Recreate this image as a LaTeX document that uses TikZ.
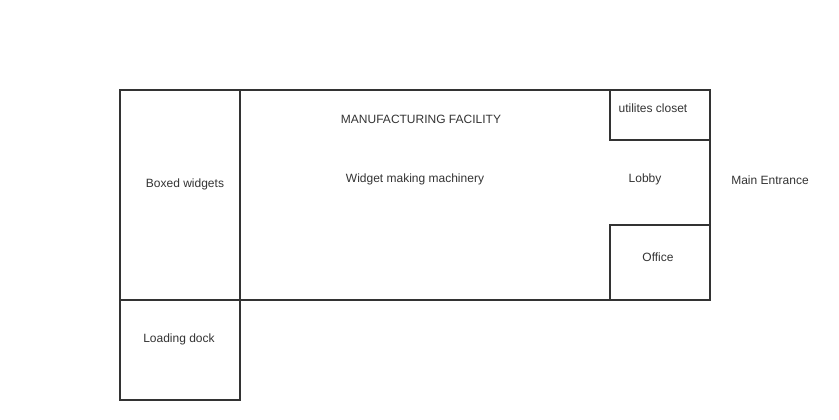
\documentclass[tikz,border=0pt]{standalone}
\usepackage{fontspec}
\setmainfont{Liberation Sans}
\begin{document}
\begin{tikzpicture}[x=0.75pt,y=-0.75pt,
  wall/.style={draw=black!80,line width=1.5pt},
  lbl/.style={text=black!80,font=\fontsize{9}{10}\selectfont,inner sep=0pt}]
\useasboundingbox (0,0) rectangle (839,420);
\draw[wall] (120,90) rectangle (710,300);
\draw[wall] (240,90) -- (240,300);
\draw[wall] (120,300) rectangle (240,400);
\draw[wall] (610,90) -- (610,140) -- (710,140);
\draw[wall] (610,300) -- (610,225) -- (710,225);
\node[lbl] (mf) at (421,119) {MANUFACTURING FACILITY};
\node[lbl] (wm) at (415,179) {Widget making machinery};
\node[lbl] (bw) at (185,184) {Boxed widgets};
\node[lbl] (ld) at (179,339) {Loading dock};
\node[lbl] (uc) at (653,108) {utilites closet};
\node[lbl] (lb) at (645,179) {Lobby};
\node[lbl] (of) at (658,257) {Office};
\node[lbl] (me) at (770,180) {Main Entrance};
\end{tikzpicture}
\end{document}
